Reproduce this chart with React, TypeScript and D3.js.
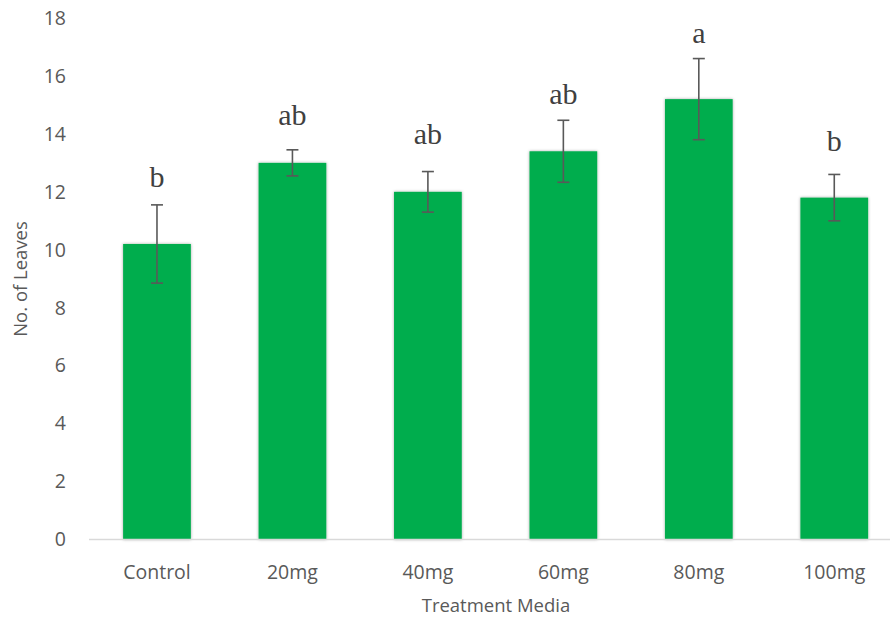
import React, { useEffect, useRef } from "react";
import * as d3 from "d3";

// Mean leaf counts per treatment, with error bar half-widths and significance letters
const categories = ["Control", "20mg", "40mg", "60mg", "80mg", "100mg"];
const means = [10.2, 13.0, 12.0, 13.4, 15.2, 11.8];
const errors = [1.35, 0.45, 0.7, 1.07, 1.4, 0.8];
const letters = ["b", "ab", "ab", "ab", "a", "b"];
// value level (in leaves) at which each significance letter sits
const letterLevels = [12.17, 14.31, 13.65, 15.02, 17.13, 13.41];
const yTicks = [0, 2, 4, 6, 8, 10, 12, 14, 16, 18];

const W = 890;
const H = 621;

export default function App() {
  const ref = useRef<SVGSVGElement | null>(null);

  useEffect(() => {
    document.body.style.margin = "0";
    const svg = d3.select(ref.current);
    svg.selectAll("*").remove();

    const x = d3.scaleBand<string>().domain(categories).range([89.25, 902]).paddingInner(0.5).paddingOuter(0.25);
    const y = d3.scaleLinear().domain([0, 18]).range([539.5, 18]);

    const defs = svg.append("defs");
    const f = defs.append("filter").attr("id", "barShadow").attr("x", "-20%").attr("y", "-5%").attr("width", "140%").attr("height", "110%");
    f.append("feDropShadow").attr("dx", 0).attr("dy", 0).attr("stdDeviation", 1.6).attr("flood-color", "#000").attr("flood-opacity", 0.35);

    const sans = "'Open Sans', 'Noto Sans', sans-serif";
    const serif = "'Liberation Serif', 'DejaVu Serif', serif";

    // y tick labels
    svg.append("g").selectAll("text").data(yTicks).join("text")
      .attr("x", 66).attr("y", (d) => y(d)).attr("dy", "0.35em")
      .attr("text-anchor", "end").attr("font-family", sans).attr("font-size", 19.5)
      .attr("fill", "#595959").text((d) => d);

    // bars
    svg.append("g").selectAll("rect").data(categories).join("rect")
      .attr("x", (d) => x(d)!).attr("width", x.bandwidth())
      .attr("y", (_, i) => y(means[i])).attr("height", (_, i) => y(0) - y(means[i]))
      .attr("fill", "#00AD4E").attr("filter", "url(#barShadow)");

    // baseline
    svg.append("line").attr("x1", 89).attr("x2", 902).attr("y1", y(0)).attr("y2", y(0))
      .attr("stroke", "#d9d9d9").attr("stroke-width", 1.5);

    // error bars
    const eb = svg.append("g").attr("stroke", "#595959").attr("stroke-width", 1.6);
    categories.forEach((c, i) => {
      const cx = x(c)! + x.bandwidth() / 2;
      const top = y(means[i] + errors[i]);
      const bot = y(means[i] - errors[i]);
      eb.append("line").attr("x1", cx).attr("x2", cx).attr("y1", top).attr("y2", bot);
      eb.append("line").attr("x1", cx - 6).attr("x2", cx + 6).attr("y1", top).attr("y2", top);
      eb.append("line").attr("x1", cx - 6).attr("x2", cx + 6).attr("y1", bot).attr("y2", bot);
    });

    // significance letters
    svg.append("g").selectAll("text").data(categories).join("text")
      .attr("x", (d) => x(d)! + x.bandwidth() / 2)
      .attr("y", (_, i) => y(letterLevels[i]))
      .attr("text-anchor", "middle").attr("font-family", serif).attr("font-size", 30)
      .attr("fill", "#404040").text((_, i) => letters[i]);

    // category labels
    svg.append("g").selectAll("text").data(categories).join("text")
      .attr("x", (d) => x(d)! + x.bandwidth() / 2).attr("y", 572).attr("dy", "0.35em")
      .attr("text-anchor", "middle").attr("font-family", sans).attr("font-size", 19.5)
      .attr("fill", "#595959").text((d) => d);

    // axis titles
    svg.append("text").attr("x", 496).attr("y", 606).attr("dy", "0.35em")
      .attr("text-anchor", "middle").attr("font-family", sans).attr("font-size", 18.5)
      .attr("fill", "#595959").text("Treatment Media");

    svg.append("text").attr("transform", `translate(21,279) rotate(-90)`).attr("dy", "0.35em")
      .attr("text-anchor", "middle").attr("font-family", sans).attr("font-size", 18.5)
      .attr("fill", "#595959").text("No. of Leaves");
  }, []);

  return <svg ref={ref} width={W} height={H} style={{ display: "block", background: "#fff" }} />;
}
